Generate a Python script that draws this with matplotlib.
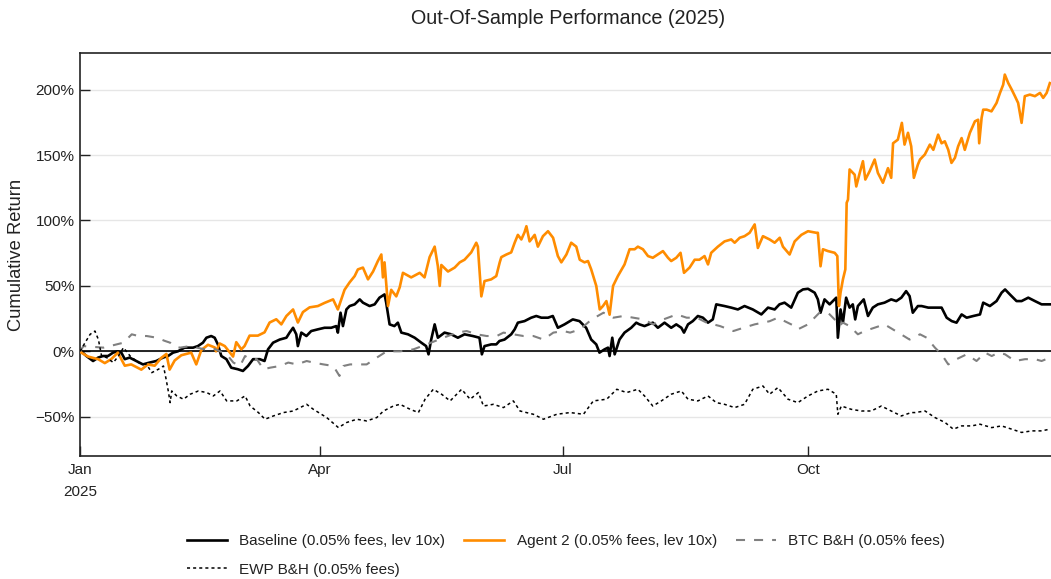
import matplotlib
matplotlib.use("Agg")
import matplotlib.pyplot as plt
from matplotlib.ticker import FuncFormatter
import pandas as pd

plt.rcParams['font.family'] = ['Liberation Sans', 'DejaVu Sans']
plt.rcParams['lines.scale_dashes'] = False

START = "2025-01-01"

# ---- data (day offset from 2025-01-01, cumulative return in %) ----
baseline_days = [0, 0.5, 2.4, 4.9, 6.8, 8.6, 10.5, 12.4, 14.2, 15.5, 16.8, 18.6, 21.1, 23.6, 26.1, 28.6,
                 31.1, 33, 34.9, 36.7, 39.2, 42.4, 44.2, 46.1, 47.4, 49.2, 50.5, 51.7, 53, 54.9, 56.7,
                 59.2, 61.1, 63, 64.9, 67.4, 69.2, 70.5, 72.4, 74.9, 77.4, 78.6, 79.9, 81.1, 81.7, 83,
                 84.9, 86.7, 89.2, 91.7, 94.2, 96.1, 96.7, 97.7, 98.6, 99.9, 101.1, 103, 104.9, 106.1,
                 108.6, 110.5, 112.3, 114.2, 114.8, 116.1, 117.9, 119.2, 120.5, 123, 125.5, 128, 129.8,
                 130.7, 131.7, 133, 134.2, 136.7, 139.2, 141.7, 144.2, 147.3, 149.8, 150.7, 151.7, 154.2,
                 156.1, 157.3, 159.2, 161.7, 163, 164.2, 166.7, 169.2, 171.1, 173, 175.5, 177.3, 179.2,
                 181.7, 184.8, 187.3, 189.8, 191.7, 193.6, 194.8, 196.7, 198, 198.6, 199.6, 200.5, 202.3,
                 204.2, 206.7, 208.6, 209.8, 211.7, 214.8, 216.7, 219.2, 221.7, 223.6, 225.5, 226.5, 228,
                 229.8, 231.7, 233.6, 235.5, 237.3, 238.6, 241.7, 244.2, 246.7, 249.2, 252.3, 255.5, 258,
                 260.5, 262.3, 264.2, 266.7, 269.2, 271.1, 273, 275.5, 276.7, 277.7, 279.2, 281.1, 283.6,
                 284.2, 285.2, 286.1, 287.3, 288.6, 289.8, 290.7, 291.7, 293.9, 295.5, 297.3, 299.2, 301.7,
                 304.2, 306.1, 308, 309.8, 311.1, 312.3, 314.2, 315.6, 318.1, 320.6, 323.1, 325, 326.9,
                 328.7, 330.6, 332.5, 335, 337.5, 338.7, 341.2, 343.7, 345.6, 346.9, 348.7, 351.2, 353.1,
                 355.6, 358.1, 360.6, 363.7]
baseline_vals = [0, 0, -3.6, -7.4, -4.8, -3.6, -3.6, -1, 0, -1, -6, -4.8, -7.4, -10, -8.6, -7.4,
                 -4.8, -3.6, -1, 0, 2.8, 2.8, 4, 6.6, 10.4, 11.7, 10.4, 5.3, -3.6, -6, -12.5,
                 -13.7, -15, -11.2, -6, -6, -7.4, 1.5, 6.6, 9, 10.4, 14.3, 18, 13, 4, 14.3,
                 11.7, 15.5, 16.8, 18, 18, 19.3, 14.3, 29.5, 19.3, 32, 34.6, 35.9, 39.7, 37.2,
                 34.6, 35.9, 41, 43.5, 37.4, 20.6, 19.3, 21.9, 14.3, 13, 10.4, 6.6, 4,
                 -2.3, 9, 20.6, 10.4, 14.3, 13, 10.4, 13, 11.7, 10.4, -2.3, 4, 5.3,
                 5.3, 7.9, 9, 13, 16.8, 21.9, 23.1, 25.7, 27, 25.7, 25.7, 27, 18,
                 20.6, 24.4, 23.1, 18, 9, 5.3, -1, 1.5, 2.8, -3.6, 10.4, -2.3, 9,
                 14.3, 18, 21.9, 20.6, 19.3, 21.9, 18, 21.9, 18, 20.6, 18, 14.3, 20.6,
                 23.1, 27, 25.7, 21.9, 24.4, 35.9, 34.6, 33.4, 32, 34.6, 32, 28.2, 33.4,
                 32, 35.9, 37.2, 33.4, 44.8, 47.3, 47.8, 44.8, 39.7, 29.5, 39.7, 35.9, 41,
                 10.4, 32, 21.9, 41, 33.4, 35.9, 24.4, 34.6, 39.7, 27, 33.4, 35.9, 37.2,
                 39.7, 38.4, 41, 46, 42.2, 29.5, 34.6, 34.6, 33.4, 33.4, 33.4, 25.7, 23.1,
                 21.9, 28.2, 25.7, 27, 28.2, 37.2, 34.6, 38.4, 44.8, 47.3, 43.5, 38.4, 38.4,
                 41, 38.4, 35.9, 35.9]

agent2_days = [0, 0.5, 3, 6.8, 9.3, 11.7, 14.2, 16.8, 19.2, 23, 25.5, 28, 30.5, 32.4, 33.6, 35.5,
               38, 41.7, 43.6, 45.5, 48, 50.5, 51, 52.4, 54.3, 57.4, 58.6, 60.5, 61.7, 63.6, 66.7,
               69.2, 71.1, 73.6, 75.5, 77.4, 79.9, 81.7, 83.6, 86.1, 89.2, 91.7, 94.9, 96.7, 98,
               99.2, 101.1, 103, 104.2, 106.1, 108, 109.9, 111.7, 113, 113.6, 114.2, 115.5, 116.7,
               118.6, 119.9, 121.1, 124.2, 127.4, 129.2, 131.1, 133, 134.2, 134.9, 135.5, 138,
               140.5, 142.4, 144.2, 146.7, 148.6, 149.2, 150.5, 151.7, 154.2, 156.1, 157.4, 158,
               159.9, 161.7, 163, 164.2, 165.5, 166.7, 167.4, 168.6, 170.5, 171.7, 173.6, 175.5,
               177.4, 179.2, 180.5, 182.4, 184.2, 186.1, 187.4, 189.2, 190.5, 191.7, 193.6, 194.9,
               196.1, 197.4, 198.6, 199.9, 201.7, 204.2, 206.1, 208, 209.2, 211.1, 213, 214.8,
               216.7, 218.6, 220.5, 221.7, 223.6, 225.2, 226.5, 228.6, 230.5, 232.3, 234.2, 235.5,
               236.7, 239.2, 241.7, 244.2, 245.5, 247.4, 249.2, 251.1, 253, 254.2, 256.1, 258.6,
               260.5, 262.4, 263.6, 266.1, 268, 270.5, 273, 276.1, 276.7, 277.7, 278.6, 280.5, 283,
               284, 284.6, 285.2, 286.1, 287, 287.5, 288, 288.6, 290.5, 291.1, 292.4, 293.6, 294.5,
               296.1, 298, 299.2, 301.1, 303, 304.2, 304.9, 306.7, 308.2, 309.2, 310.5, 311.7,
               312.7, 314.2, 315, 316.8, 318.7, 320, 321.8, 323.1, 324.3, 325.6, 326.8, 328.1,
               329.3, 330.6, 331.8, 333.7, 335.6, 336.8, 337.2, 338.1, 338.7, 340, 341.8, 343.7,
               345, 346.2, 346.8, 348.1, 349.4, 350.6, 351.8, 353.1, 354.3, 356.2, 358.1, 360,
               361.2, 362.5, 363.7]
agent2_vals = [0, -1, -4, -6, -9, -6, -1, -11, -10, -14, -10, -11, -5, -2, -14, -7,
               -3, -1, -10, 1, 5, 3, 0, 6, 4, -4, 7, 1.5, 4, 12, 12,
               14.5, 22, 24.5, 20.6, 27, 32, 22, 30, 33.6, 34.6, 37, 39.7, 32, 39.7,
               47, 52.7, 57.5, 62.6, 64, 55, 61, 69, 74, 56.5, 68, 34.6, 47,
               42, 49, 60, 56.5, 60, 56.5, 72, 80, 65, 50, 66, 61,
               64, 68, 70, 75.6, 83, 80, 42, 53.7, 55, 57.5, 68, 72,
               74, 75.6, 83, 89, 85.5, 91, 95.6, 84, 89, 80, 88, 91.8,
               86.8, 72.8, 68, 74, 83, 80, 70, 68, 69, 62.6, 50, 32,
               34.6, 38.4, 28, 50, 57.5, 66.4, 78, 78, 80, 78, 72.8, 71.5,
               74, 76.6, 71.5, 69, 71.5, 75.3, 60, 64, 70, 70, 72.8, 66.4,
               75.3, 80, 84, 85.5, 83, 86.8, 88, 90.6, 97, 79, 88, 85.5,
               83, 86.8, 80, 74, 84, 89, 91.8, 90.6, 90.6, 65, 78, 76.6, 75.3,
               72.8, 34.6, 44.8, 55, 62.6, 113.5, 116, 139, 135, 126, 136.4, 145.3, 131.3,
               137.6, 146.6, 136.4, 128.8, 140, 132.6, 159, 161.8, 174.6, 158, 167, 156.7,
               132.6, 142.7, 146.6, 150.4, 158, 154, 165.6, 159, 160.5, 154, 144, 147.9,
               156.7, 163, 154, 167, 175.8, 177, 159, 178.4, 184.7, 184.7, 183.4, 189.8,
               197.5, 203.8, 211.5, 205, 200, 195, 189.8, 174.6, 195, 196.2, 195, 197.5,
               193.7, 197.5, 205]

btc_days = [0, 1.3, 8.8, 16.3, 19.4, 21.9, 25, 28.8, 31.9, 33.8, 35, 37.5, 41.3, 43.8, 46.9, 49.4,
            52.5, 55, 57.5, 60, 61.9, 63.8, 66.3, 68.8, 71.3, 75, 78.1, 81.3, 85, 87.5, 91.3, 95,
            97.3, 98.8, 101.3, 105, 107.5, 111.3, 115, 120, 125, 130, 136.3, 141.3, 145, 148.8,
            152.5, 156.3, 158.8, 162.5, 166.3, 170, 173.8, 177.5, 181.3, 183.8, 187.5, 191.9,
            196.3, 200, 203.8, 207.5, 211.3, 215, 218.8, 223.8, 227.5, 231.3, 235, 240, 245,
            248.8, 253, 258.6, 261.7, 264.2, 268, 269.2, 273, 277.3, 280.5, 283.6, 284.5, 286.1,
            288.6, 291.7, 294.2, 297.9, 301.7, 304.8, 307.9, 311.1, 315, 317.5, 320.6, 323.1,
            325.6, 328.7, 332.5, 336.2, 339.4, 341.9, 344.4, 346.9, 350.6, 354.4, 358.1, 360.6,
            363.7]
btc_vals = [0, 4, 2.8, 6.6, 13, 11.7, 11.7, 10.4, 7.9, 6.6, 4, 2.8, 4, 2.8, 1.5, 2.8,
            0, -2.3, -8.6, -11.2, -3.6, -6, -6, -13.7, -12.5, -11.2, -8.6, -10, -7.4, -8.6, -10, -11.2,
            -18.8, -11.2, -10, -10, -10, -4.8, 0, 0, 1.5, 5.3, 10.4, 14.3, 15.5, 13,
            11.7, 11.7, 14.3, 13, 11.7, 11.7, 9, 14.3, 15.5, 14.3, 16.8, 24.4,
            29.5, 25.7, 27, 25.7, 24.4, 20.6, 24.4, 28.2, 25.7, 25.7, 21.9, 19.3, 15.5,
            18, 20.6, 23, 25.7, 23.1, 19.3, 16.8, 20.6, 29.5, 29.5, 23.1, 19.3, 21.9,
            19.3, 13, 15.5, 18, 20.6, 16.8, 13, 9, 13, 10.4, 2.8, -2.3,
            -10, -6, -2.3, -7.4, -1, -3.6, -1, -2.3, -7.4, -6, -6, -7.4,
            -4.8]

ewp_days = [0, 1.9, 3.8, 5.6, 6.9, 8.1, 10, 12.5, 14.4, 16.3, 18.8, 21.9, 25, 26.9, 29.4, 31.3,
            32.3, 33.1, 33.8, 34.4, 36.3, 38.8, 41.3, 44.4, 47.5, 50, 52.5, 55, 58.8, 61.9, 63.8,
            66.9, 69.4, 72.5, 76.3, 80, 85, 87.5, 92.5, 96.9, 100, 103.8, 107.5, 111.3, 113.8,
            117.5, 120, 123.8, 126.9, 129.4, 132.5, 135.6, 138.8, 143.1, 146.3, 149.4, 151.3, 155,
            158.8, 162.5, 165, 170, 173.8, 178.8, 183.8, 188.8, 192.5, 197.5, 201.3, 205, 209.2,
            211.7, 214.8, 218, 221.7, 225.5, 228, 231.7, 235.5, 238.6, 241.7, 245.5, 249.2, 252.3,
            256.1, 258.6, 261.7, 265.5, 269.2, 273, 276.7, 280.5, 283.6, 284.2, 285.5, 289.2, 293,
            296.7, 300.5, 304.2, 308, 311.7, 313.1, 316.9, 320.6, 324.4, 327.5, 330.6, 334.4, 337.5,
            341.9, 345.6, 349.4, 353.1, 356.9, 360.6, 363.7]
ewp_vals = [0, 6.6, 13, 15.5, 9, -3.6, -4.8, -8.6, -3.6, 2.8, -3.6, -8.6, -10, -16.3, -13.7, -11.2,
            -21.4, -30.3, -39.2, -30.3, -34.1, -36.6, -32.8, -30.3, -31.5, -34.1, -30.3, -37.9, -37.9, -34.1, -41.8,
            -46.8, -51.9, -49.4, -46.8, -45.6, -40.5, -44.3, -50.6, -58.3, -54.4, -51.9, -53.2, -50.6, -45.6,
            -41.8, -40.5, -44.3, -46.8, -36.6, -29, -32.8, -37.9, -29, -36.6, -31.5, -41.8, -40.5,
            -43, -37.9, -45.6, -48.1, -51.9, -48.1, -46.8, -48.1, -37.9, -36.6, -29, -31.5, -29,
            -34.1, -41.8, -37.9, -32.8, -30.3, -36.6, -37.9, -34.1, -39.2, -40.5, -43, -40.5, -29,
            -26.5, -32.8, -27.7, -36.6, -39.2, -34.1, -30.3, -29, -32.8, -48.1, -41.8, -44.3, -45.6,
            -45.6, -41.8, -45.6, -49.4, -46.8, -46.8, -45.6, -50.6, -54.4, -59.5, -57, -57, -55.7,
            -58.3, -57, -59.5, -62, -60.8, -60.8, -59.5]

labels = ["Baseline (0.05% fees, lev 10x)", "Agent 2 (0.05% fees, lev 10x)",
          "BTC B&H (0.05% fees)", "EWP B&H (0.05% fees)"]
x_tick_dates = ["2025-01-01", "2025-04-01", "2025-07-01", "2025-10-01"]
x_tick_labels = ["Jan\n2025", "Apr", "Jul", "Oct"]
y_ticks = [-50, 0, 50, 100, 150, 200]


def to_dates(days):
    return pd.Timestamp(START) + pd.to_timedelta(days, unit="D")


W, H = 1051, 579
fig = plt.figure(figsize=(W / 100, H / 100), dpi=100)
ax = fig.add_axes([80 / W, 1 - 456 / H, (W - 80) / W, (456 - 53) / H])

ax.axhline(0, color="black", lw=1.2, zorder=2)
lb, = ax.plot(to_dates(baseline_days), baseline_vals, color="black", lw=1.9, zorder=3)
la, = ax.plot(to_dates(agent2_days), agent2_vals, color="#FF8C00", lw=1.9, zorder=4)
lbt, = ax.plot(to_dates(btc_days), btc_vals, color="#808080", lw=1.5,
               linestyle=(0, (6.5, 6.5)), zorder=5)
le, = ax.plot(to_dates(ewp_days), ewp_vals, color="black", lw=1.1,
              linestyle=(0, (2.2, 2.2)), zorder=6)

ax.set_xlim(pd.Timestamp("2025-01-01"), pd.Timestamp("2025-12-31 03:00"))
ax.set_ylim(-80, 228)

ax.set_yticks(y_ticks)
ax.yaxis.set_major_formatter(FuncFormatter(lambda v, p: f"{v:.0f}%".replace("-", "\u2212")))
ax.set_xticks(pd.to_datetime(x_tick_dates))
ax.set_xticklabels(x_tick_labels, linespacing=1.75)

ax.grid(axis="y", color="#e6e6e6", lw=1.0, zorder=0)
ax.grid(axis="x", visible=False)
ax.set_axisbelow(True)

for s in ["left", "bottom", "top"]:
    ax.spines[s].set_color("#222222")
    ax.spines[s].set_linewidth(1.2)
ax.spines["right"].set_visible(False)

ax.tick_params(axis="both", direction="in", length=7, width=1, colors="#222222",
               labelsize=11, labelcolor="#222222")
ax.tick_params(axis="y", pad=4)
ax.tick_params(axis="x", pad=5)

fig.text(568 / W, 1 - 18 / H, "Out-Of-Sample Performance (2025)", ha="center", va="center",
         fontsize=14.2, color="#222222")
fig.text(17 / W, 1 - 254.5 / H, "Cumulative Return", rotation=90, ha="center", va="center",
         fontsize=13.2, color="#222222")

handles = [lb, le, la, lbt]
leg_labels = [labels[0], labels[3], labels[1], labels[2]]
fig.legend(handles, leg_labels, loc="upper left", bbox_to_anchor=(187 / W, 1 - 534 / H),
           ncol=3, frameon=False, fontsize=11, handlelength=2.62,
           handletextpad=0.8, columnspacing=1.25, labelspacing=0.95, borderpad=0,
           borderaxespad=0, labelcolor="#222222")

fig.savefig("out.png", dpi=100)
